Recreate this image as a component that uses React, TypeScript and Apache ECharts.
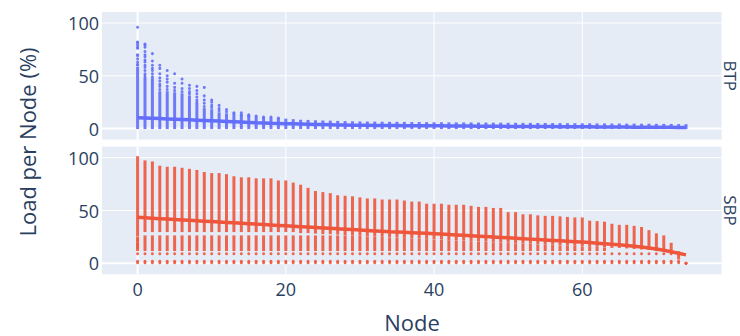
import React, { useEffect, useRef } from "react";
import * as echarts from "echarts";

// ---------- data ----------
const btpMean = [
  10.4, 10.1, 9.8, 9.5, 9.2, 8.9, 8.6, 8.3, 8.0, 7.7,
  7.4, 7.1, 6.8, 6.5, 6.2, 5.9, 5.6, 5.4, 5.1, 4.9,
  4.7, 4.5, 4.3, 4.1, 3.9, 3.8, 3.7, 3.5, 3.4, 3.3,
  3.2, 3.1, 3.0, 3.0, 2.9, 2.9, 2.8, 2.8, 2.7, 2.7,
  2.6, 2.6, 2.5, 2.5, 2.4, 2.4, 2.3, 2.3, 2.2, 2.2,
  2.1, 2.1, 2.0, 2.0, 1.9, 1.9, 1.9, 1.8, 1.8, 1.8,
  1.7, 1.7, 1.6, 1.6, 1.6, 1.5, 1.5, 1.4, 1.4, 1.3,
  1.3, 1.2, 1.2, 1.1, 1.0,
];
const btpTop = [
  57, 46, 45, 34, 34, 33, 32, 30, 23, 18,
  17, 14, 13, 12, 12, 11, 10, 9.5, 9, 8.5,
  8, 7.5, 7, 6.8, 6.5, 6.3, 6.1, 5.9, 5.7, 5.5,
  5.4, 5.3, 5.2, 5.1, 5.0, 5.0, 4.9, 4.8, 4.8, 4.7,
  4.6, 4.6, 4.5, 4.5, 4.4, 4.4, 4.3, 4.3, 4.2, 4.2,
  4.1, 4.1, 4.0, 4.0, 3.9, 3.9, 3.8, 3.8, 3.7, 3.7,
  3.6, 3.6, 3.5, 3.5, 3.4, 3.4, 3.3, 3.3, 3.2, 3.2,
  3.1, 3.1, 3.0, 2.9, 2.8,
];
const btpFloor = 1;
const btpOutliers: [number, number][] = [
  [0, 96], [0, 82], [0, 81], [0, 79], [0, 77], [0, 76], [0, 70], [0, 69], [0, 66], [0, 63], [0, 61], [0, 60],
  [1, 80], [1, 79], [1, 77], [1, 73], [1, 70], [1, 68], [1, 65], [1, 63], [1, 60], [1, 58], [1, 55], [1, 52], [1, 50], [1, 48],
  [2, 71], [2, 64], [2, 60], [2, 57], [2, 55], [2, 52], [2, 49], [2, 47],
  [3, 60], [3, 57], [3, 52], [3, 48], [3, 45], [3, 42], [3, 40], [3, 37],
  [4, 55], [4, 50], [4, 47], [4, 44], [4, 40], [4, 37],
  [5, 52], [5, 43], [5, 39], [5, 36],
  [6, 47], [6, 43], [6, 38], [6, 35],
  [7, 41], [7, 38], [7, 35], [7, 33],
  [8, 40], [8, 36], [8, 33], [8, 30], [8, 27], [8, 25],
  [9, 39], [9, 31], [9, 27], [9, 24], [9, 21],
  [10, 27], [10, 25], [10, 22], [10, 20],
  [11, 22], [11, 19], [11, 17],
  [12, 18], [12, 16],
  [13, 15], [13, 14],
  [14, 15], [14, 13],
  [15, 13], [15, 12],
  [16, 12], [17, 11], [18, 11], [19, 10],
];

const sbpMean = [
  43.5, 43.1, 42.7, 42.3, 41.9, 41.5, 41.1, 40.7, 40.3, 39.9,
  39.5, 39.1, 38.7, 38.3, 37.9, 37.5, 37.1, 36.7, 36.3, 35.9,
  35.5, 35.1, 34.7, 34.3, 33.9, 33.5, 33.1, 32.7, 32.3, 31.9,
  31.5, 31.1, 30.7, 30.3, 29.9, 29.6, 29.3, 29.0, 28.7, 28.4,
  28.1, 27.7, 27.3, 26.9, 26.5, 26.1, 25.7, 25.3, 24.9, 24.5,
  24.1, 23.7, 23.3, 22.9, 22.5, 22.1, 21.7, 21.3, 20.9, 20.5,
  20.1, 19.6, 19.1, 18.6, 18.1, 17.5, 16.9, 16.2, 15.5, 14.6,
  13.6, 12.4, 11.0, 9.5, 8.0,
];
const sbpMax = [
  100, 96, 95, 91, 90, 90, 89, 88, 87, 85,
  84, 84, 83, 81, 80, 80, 79, 79, 79, 77,
  77, 75, 73, 70, 67, 66, 65, 63, 62.5, 62,
  61, 60, 60, 59, 59, 59, 58, 57, 57, 55,
  55, 55, 54, 54, 54, 53, 52, 52, 51, 51,
  47, 47, 45, 45, 44, 43.5, 43.5, 43, 42.5, 42,
  42, 39, 38.5, 38, 36, 35, 35, 34, 33, 30,
  27, 25, 18, 10, 0,
];
const sbpUpperLo = [
  27, 31, 31, 31, 31, 31, 31, 31, 31, 31,
  31, 31, 31, 31, 31, 31, 31, 31, 31, 31,
  31, 31, 30, 30, 29.5, 29, 29, 28.5, 28, 28,
  27.5, 27, 27, 26.5, 26, 26, 25.5, 25, 25, 24.5,
  24, 24, 23.5, 23, 23, 22.5, 22, 22, 21.5, 21,
  21, 20.5, 20, 20, 19.5, 19, 19, 18.5, 18, 18,
  17.5, 17, 17, 16.5, 16, 16, 15.5, 15, 14.5, 14,
  13, 13, 12, 5, 0,
];
const sbpLowBand = [13, 25];
const sbpDotRows = [9, 2, 0.5];
const sbpNode0Dots = [22, 18, 15];

const xTicks = [0, 20, 40, 60];
const yTicks = [0, 50, 100];
const facetLabels = ["BTP", "SBP"];
const xTitle = "Node";
const yTitle = "Load per Node (%)";

// ---------- styles ----------
const BLUE = "#636efa";
const RED = "#EF553B";
const TEXT = "#2a3f5f";
const BG = "#E5ECF6";
const FONT = '"Open Sans", verdana, arial, sans-serif';

const X_MIN = -4.8;
const X_MAX = 78.8;
const Y_MIN = -10.4;
const Y_MAX = 110.4;

export default function App() {
  const ref = useRef<HTMLDivElement>(null);

  useEffect(() => {
    const chart = echarts.init(ref.current!, null, { renderer: "svg" });
    const nodes = btpMean.map((_, i) => i);

    const btpStrips = nodes.map((i) => [i, btpFloor, btpTop[i]]);
    const sbpStrips: number[][] = [];
    const sbpDots: number[][] = [];
    nodes.forEach((i) => {
      const hi = sbpMax[i];
      const lo = sbpUpperLo[i];
      if (hi > lo) sbpStrips.push([i, lo, hi]);
      const lbTop = Math.min(sbpLowBand[1], lo - 3, hi);
      if (lbTop > sbpLowBand[0]) sbpStrips.push([i, sbpLowBand[0], lbTop]);
      sbpDotRows.forEach((v) => {
        if (v <= hi || hi === 0) sbpDots.push([i, hi === 0 ? 0 : v]);
      });
    });
    sbpNode0Dots.forEach((v) => sbpDots.push([0, v]));

    const stripRender = (color: string) => (params: any, api: any) => {
      const x = api.value(0);
      const p1 = api.coord([x, api.value(2)]);
      const p2 = api.coord([x, api.value(1)]);
      return {
        type: "rect",
        shape: { x: p1[0] - 1.5, y: p1[1] - 1.5, width: 3, height: p2[1] - p1[1] + 3 },
        style: { fill: color, opacity: 0.9 },
      };
    };

    const vGridRender = (params: any, api: any) => {
      const v = api.value(0);
      const cs = params.coordSys;
      const px = api.coord([v, 0])[0];
      return {
        type: "line",
        shape: { x1: px, y1: cs.y, x2: px, y2: cs.y + cs.height },
        style: { stroke: "#fff", lineWidth: v === 0 ? 2 : 1 },
      };
    };
    const hGridRender = (params: any, api: any) => {
      const v = api.value(1);
      const cs = params.coordSys;
      const py = api.coord([0, v])[1];
      return {
        type: "line",
        shape: { x1: cs.x, y1: py, x2: cs.x + cs.width, y2: py },
        style: { stroke: "#fff", lineWidth: v === 0 ? 2 : 1 },
      };
    };

    const grids = [
      { left: 102, top: 12, width: 619.6, height: 127.6 },
      { left: 102, top: 146.7, width: 619.6, height: 127.6 },
    ];

    const mkSeries = (gi: number, color: string, strips: number[][], dots: number[][], mean: number[]) => [
      {
        type: "custom", xAxisIndex: gi, yAxisIndex: gi, z: 1, silent: true,
        renderItem: vGridRender, data: xTicks.map((v) => [v, 0]),
      },
      {
        type: "custom", xAxisIndex: gi, yAxisIndex: gi, z: 1, silent: true,
        renderItem: hGridRender, data: yTicks.map((v) => [0, v]),
      },
      {
        type: "custom", xAxisIndex: gi, yAxisIndex: gi, z: 2, silent: true,
        renderItem: stripRender(color), data: strips,
        encode: { x: 0, y: [1, 2] },
      },
      {
        type: "scatter", xAxisIndex: gi, yAxisIndex: gi, z: 2, silent: true,
        symbolSize: 3, itemStyle: { color, opacity: 0.9 }, data: dots,
      },
      {
        type: "line", xAxisIndex: gi, yAxisIndex: gi, z: 3, silent: true,
        showSymbol: false, lineStyle: { color, width: 3.5 },
        data: mean.map((v, i) => [i, v]),
      },
    ];

    chart.setOption({
      animation: false,
      backgroundColor: "#fff",
      textStyle: { fontFamily: FONT },
      grid: grids.map((g) => ({ ...g, show: true, backgroundColor: BG, borderWidth: 0 })),
      xAxis: [0, 1].map((gi) => ({
        type: "value", gridIndex: gi, min: X_MIN, max: X_MAX,
        axisLine: { show: false }, axisTick: { show: false }, splitLine: { show: false },
        axisLabel: {
          show: gi === 1, customValues: xTicks, color: TEXT, fontSize: 18, margin: 6,
          fontFamily: FONT,
        },
      })),
      yAxis: [0, 1].map((gi) => ({
        type: "value", gridIndex: gi, min: Y_MIN, max: Y_MAX,
        axisLine: { show: false }, axisTick: { show: false }, splitLine: { show: false },
        axisLabel: { customValues: yTicks, color: TEXT, fontSize: 18, margin: 3, fontFamily: FONT },
      })),
      series: [
        ...mkSeries(0, BLUE, btpStrips, btpOutliers, btpMean),
        ...mkSeries(1, RED, sbpStrips, sbpDots, sbpMean),
      ],
      graphic: [
        {
          type: "text", x: 730, y: 75.8, rotation: -Math.PI / 2,
          style: { text: facetLabels[0], fill: TEXT, font: `17px ${FONT}`, align: "center", verticalAlign: "middle" },
        },
        {
          type: "text", x: 730, y: 210.5, rotation: -Math.PI / 2,
          style: { text: facetLabels[1], fill: TEXT, font: `17px ${FONT}`, align: "center", verticalAlign: "middle" },
        },
        {
          type: "text", x: 412, y: 322,
          style: { text: xTitle, fill: TEXT, font: `22px ${FONT}`, align: "center", verticalAlign: "middle" },
        },
        {
          type: "text", x: 27, y: 142, rotation: Math.PI / 2,
          style: { text: yTitle, fill: TEXT, font: `22px ${FONT}`, align: "center", verticalAlign: "middle" },
        },
      ],
    });
    return () => chart.dispose();
  }, []);

  return <div ref={ref} style={{ position: "fixed", left: 0, top: 0, width: 740, height: 336 }} />;
}
